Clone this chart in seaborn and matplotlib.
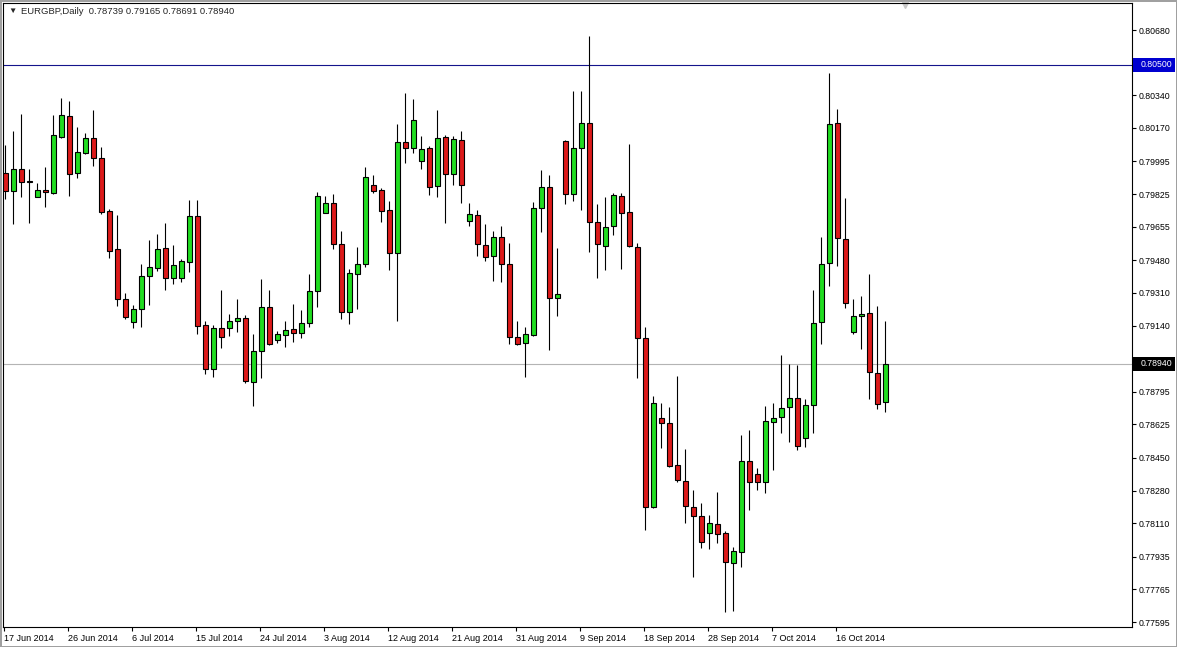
import numpy as np
import pandas as pd
import matplotlib
matplotlib.use('Agg')
import matplotlib.pyplot as plt
import matplotlib.transforms as mtransforms
from matplotlib.patches import Rectangle
import seaborn as sns

# EURGBP daily candles, 17 Jun 2014 - 23 Oct 2014 (MT4 with Sunday bars)
symbol = "EURGBP,Daily"
opens = [0.79936, 0.79841, 0.79956, 0.79891, 0.79810, 0.79846, 0.79831, 0.80122, 0.80232, 0.79935,
         0.80039, 0.80117, 0.80013, 0.79737, 0.79539, 0.79278, 0.79158, 0.79226, 0.79398, 0.79440,
         0.79544, 0.79388, 0.79388, 0.79471, 0.79711, 0.79143, 0.78913, 0.79127, 0.79127, 0.79164,
         0.79179, 0.78846, 0.79007, 0.79237, 0.79065, 0.79091, 0.79122, 0.79101, 0.79153, 0.79320,
         0.79726, 0.79779, 0.79565, 0.79211, 0.79409, 0.79461, 0.79872, 0.79846, 0.79742, 0.79518,
         0.80096, 0.80065, 0.79997, 0.80065, 0.79867, 0.80122, 0.79930, 0.80107, 0.79685, 0.79716,
         0.79560, 0.79502, 0.79601, 0.79461, 0.79080, 0.79049, 0.79091, 0.79752, 0.79862, 0.79283,
         0.80102, 0.79825, 0.80065, 0.80195, 0.79680, 0.79554, 0.79659, 0.79815, 0.79732, 0.79549,
         0.79075, 0.78194, 0.78658, 0.78632, 0.78413, 0.78330, 0.78194, 0.78147, 0.78059, 0.78106,
         0.78059, 0.77903, 0.77960, 0.78434, 0.78366, 0.78325, 0.78637, 0.78663, 0.78715, 0.78762,
         0.78554, 0.78726, 0.79158, 0.79466, 0.80195, 0.79591, 0.79106, 0.79190, 0.79205, 0.78893,
         0.78739]
highs = [0.80081, 0.80154, 0.80242, 0.79956, 0.79883, 0.79966, 0.80237, 0.80326, 0.80310, 0.80175,
         0.80143, 0.80263, 0.80070, 0.79747, 0.79716, 0.79310, 0.79247, 0.79461, 0.79586, 0.79617,
         0.79674, 0.79560, 0.79487, 0.79794, 0.79794, 0.79164, 0.79143, 0.79325, 0.79200, 0.79278,
         0.79195, 0.79096, 0.79382, 0.79325, 0.79112, 0.79164, 0.79252, 0.79221, 0.79409, 0.79836,
         0.79815, 0.79825, 0.79633, 0.79435, 0.79549, 0.79966, 0.79924, 0.79857, 0.79789, 0.80190,
         0.80352, 0.80320, 0.80128, 0.80076, 0.80263, 0.80133, 0.80128, 0.80154, 0.79779, 0.79742,
         0.79669, 0.79633, 0.79659, 0.79570, 0.79164, 0.79132, 0.79784, 0.79950, 0.79924, 0.79544,
         0.80107, 0.80362, 0.80362, 0.80649, 0.79773, 0.79810, 0.79831, 0.79831, 0.80086, 0.79570,
         0.79132, 0.78773, 0.78736, 0.78715, 0.78877, 0.78497, 0.78283, 0.78215, 0.78153, 0.78273,
         0.78069, 0.77986, 0.78570, 0.78596, 0.78398, 0.78721, 0.78736, 0.78986, 0.78940, 0.78934,
         0.78757, 0.79325, 0.79601, 0.80456, 0.80268, 0.79805, 0.79278, 0.79294, 0.79409, 0.79242,
         0.79165]
lows = [0.79799, 0.79669, 0.79810, 0.79674, 0.79808, 0.79758, 0.79828, 0.80117, 0.79815, 0.79909,
        0.80034, 0.79971, 0.79721, 0.79492, 0.79242, 0.79174, 0.79127, 0.79132, 0.79247, 0.79424,
        0.79325, 0.79356, 0.79367, 0.79419, 0.79096, 0.78887, 0.78872, 0.79023, 0.79085, 0.79106,
        0.78841, 0.78721, 0.78867, 0.79039, 0.79049, 0.79028, 0.79054, 0.79075, 0.79132, 0.79237,
        0.79726, 0.79539, 0.79174, 0.79148, 0.79226, 0.79445, 0.79831, 0.79680, 0.79429, 0.79164,
        0.79987, 0.80039, 0.79956, 0.79820, 0.79810, 0.79674, 0.79872, 0.79779, 0.79659, 0.79502,
        0.79476, 0.79372, 0.79367, 0.79044, 0.79040, 0.78872, 0.79085, 0.79627, 0.79012, 0.79190,
        0.79773, 0.79789, 0.79742, 0.79523, 0.79388, 0.79429, 0.79612, 0.79435, 0.79550, 0.78867,
        0.78075, 0.78190, 0.78502, 0.78403, 0.78325, 0.78111, 0.77830, 0.77981, 0.77976, 0.78007,
        0.77647, 0.77652, 0.77882, 0.78179, 0.78283, 0.78267, 0.78387, 0.78580, 0.78533, 0.78491,
        0.78507, 0.78580, 0.79044, 0.79346, 0.79450, 0.79231, 0.79096, 0.79018, 0.78757, 0.78705,
        0.78691]
closes = [0.79841, 0.79956, 0.79888, 0.79888, 0.79846, 0.79836, 0.80133, 0.80237, 0.79930, 0.80044,
          0.80117, 0.80013, 0.79732, 0.79528, 0.79278, 0.79184, 0.79226, 0.79398, 0.79445, 0.79539,
          0.79388, 0.79455, 0.79476, 0.79711, 0.79138, 0.78913, 0.79127, 0.79080, 0.79164, 0.79179,
          0.78851, 0.79007, 0.79237, 0.79044, 0.79096, 0.79117, 0.79101, 0.79153, 0.79320, 0.79815,
          0.79779, 0.79565, 0.79211, 0.79414, 0.79461, 0.79914, 0.79841, 0.79737, 0.79518, 0.80096,
          0.80065, 0.80211, 0.80060, 0.79862, 0.80117, 0.79930, 0.80112, 0.79872, 0.79721, 0.79565,
          0.79497, 0.79601, 0.79461, 0.79080, 0.79044, 0.79096, 0.79752, 0.79862, 0.79283, 0.79304,
          0.79825, 0.80065, 0.80195, 0.79680, 0.79565, 0.79653, 0.79820, 0.79726, 0.79554, 0.79075,
          0.78194, 0.78736, 0.78632, 0.78408, 0.78335, 0.78200, 0.78147, 0.78012, 0.78111, 0.78054,
          0.77908, 0.77965, 0.78434, 0.78325, 0.78325, 0.78643, 0.78658, 0.78710, 0.78762, 0.78512,
          0.78726, 0.79153, 0.79461, 0.80190, 0.79596, 0.79257, 0.79190, 0.79200, 0.78898, 0.78731,
          0.78940]

date_labels = ["17 Jun 2014", "26 Jun 2014", "6 Jul 2014", "15 Jul 2014", "24 Jul 2014",
               "3 Aug 2014", "12 Aug 2014", "21 Aug 2014", "31 Aug 2014", "9 Sep 2014",
               "18 Sep 2014", "28 Sep 2014", "7 Oct 2014", "16 Oct 2014"]
price_ticks = [0.80680, 0.80340, 0.80170, 0.79995, 0.79825, 0.79655, 0.79480, 0.79310,
               0.79140, 0.78965, 0.78795, 0.78625, 0.78450, 0.78280, 0.78110, 0.77935, 0.77765,
               0.77595]
level_line = 0.80500
bid_price = 0.78940

sns.set_style("white")
plt.rcParams['font.family'] = ['Liberation Sans', 'DejaVu Sans']

df = pd.DataFrame({'open': opens, 'high': highs, 'low': lows, 'close': closes})
df['bar'] = np.arange(len(df))
df['up'] = df['close'] >= df['open']
df['body_low'] = df[['open', 'close']].min(axis=1)
df['body_h'] = (df['close'] - df['open']).abs().clip(lower=0.000012)

green = '#20dc20'
red = '#dc1a1a'

fig = plt.figure(figsize=(11.77, 6.47), dpi=100)
ax = fig.add_axes([3 / 1177, 20 / 647, 1129 / 1177, 624 / 647])

# wicks, then bodies
ax.vlines(df['bar'], df['low'], df['high'], color='black', linewidth=0.8, zorder=2)
ax.bar(df['bar'], df['body_h'], bottom=df['body_low'], width=0.66,
       color=np.where(df['up'], green, red), edgecolor='black', linewidth=0.8, zorder=3)

ax.axhline(level_line, color='#14148c', linewidth=0.8, zorder=1)
ax.axhline(bid_price, color='#b4b4b4', linewidth=0.8, zorder=1)

ax.set_xlim(-0.3, -0.3 + 1129 / 8)
ax.set_ylim(0.77569, 0.80821)

# x axis: dates every 8 bars, labels right of tick like MT4
ax.set_xticks(np.arange(0, 8 * len(date_labels), 8) - 0.2)
ax.set_xticklabels(date_labels, fontsize=6.5)
offset = mtransforms.ScaledTranslation(2 / 100, 0, fig.dpi_scale_trans)
for lab in ax.get_xticklabels():
    lab.set_horizontalalignment('left')
    lab.set_transform(lab.get_transform() + offset)

ax.yaxis.tick_right()
ax.set_yticks(price_ticks)
ax.set_yticklabels([f'{p:.5f}' for p in price_ticks], fontsize=6.3)
ax.tick_params(axis='both', direction='out', length=3, width=0.8, colors='black', pad=2,
               bottom=True, right=True, left=False, top=False)
for s in ax.spines.values():
    s.set_visible(True)
    s.set_color('black')
    s.set_linewidth(0.8)

# price labels on the scale (boxes as wide as the scale)
ytr = ax.get_yaxis_transform()
box_h = 14 * (0.80821 - 0.77569) / 624
for price, face in [(level_line, '#0000d0'), (bid_price, 'black')]:
    ax.add_patch(Rectangle((1.0005, price - box_h / 2), 42 / 1129, box_h, transform=ytr,
                           facecolor=face, edgecolor='none', clip_on=False, zorder=5))
    ax.text(1.0075, price, f'{price:.5f}', transform=ytr, fontsize=6.3, color='white',
            va='center', ha='left', zorder=6, clip_on=False)

# header
ax.text(0.005, 0.986, '\u25bc', transform=ax.transAxes, fontsize=6, va='center', ha='left')
ax.text(0.016, 0.986, f'{symbol}  {opens[-1]:.5f} {highs[-1]:.5f} {lows[-1]:.5f} {closes[-1]:.5f}',
        transform=ax.transAxes, fontsize=6.8, va='center', ha='left')
ax.plot([0.799], [0.996], marker='v', color='#c8c8c8', markersize=5,
        transform=ax.transAxes, clip_on=False)

fig.patch.set_edgecolor('#a0a0a0')
fig.patch.set_linewidth(1)
fig.savefig('out.png', dpi=100, edgecolor=fig.get_edgecolor())
